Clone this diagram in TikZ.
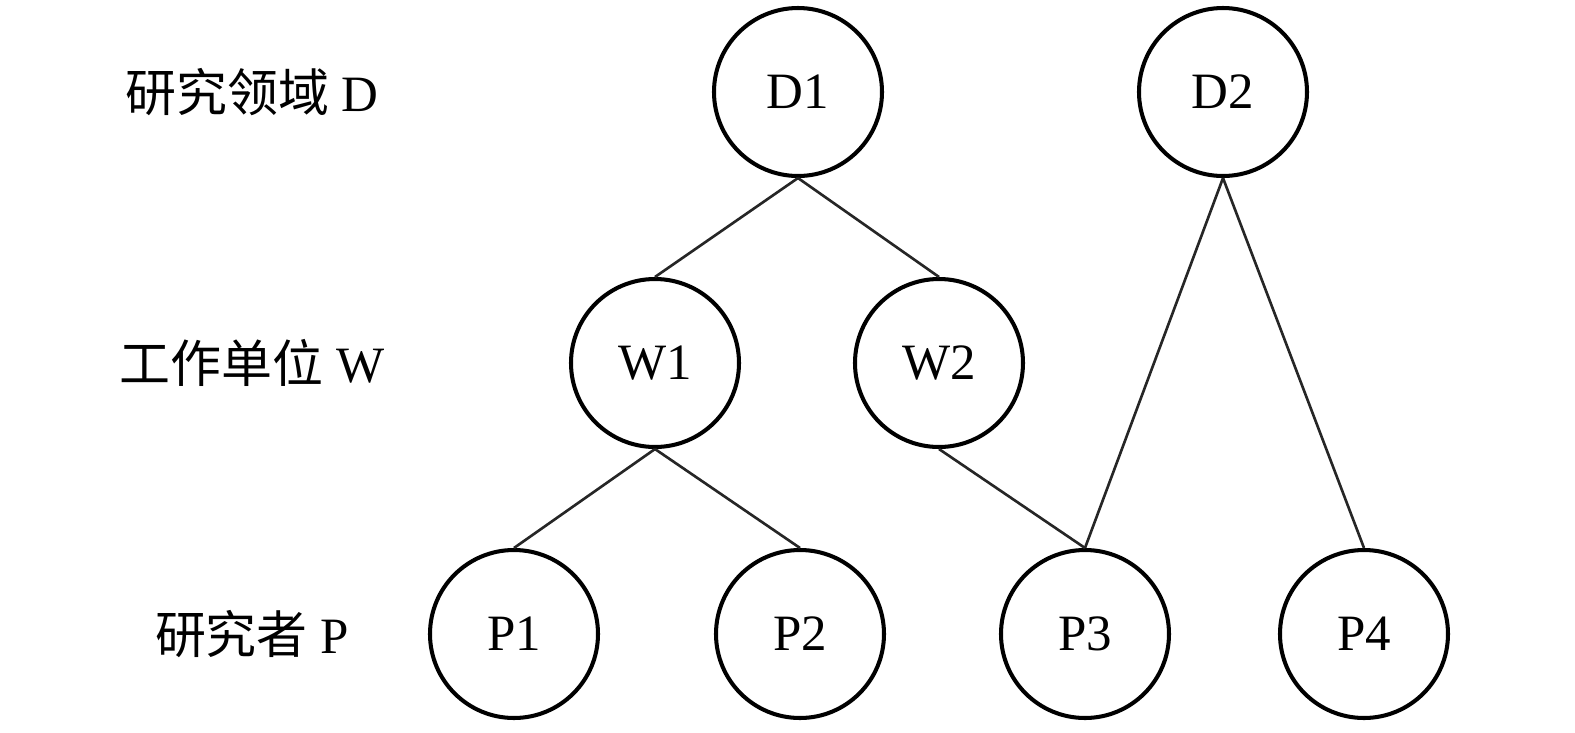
\documentclass[tikz,border=0pt]{standalone}
\usepackage{fontspec}
\setmainfont{Liberation Serif}
\newfontfamily\cjk{Noto Sans CJK SC}
\usetikzlibrary{positioning}

\begin{document}
\begin{tikzpicture}[on grid,auto,
	nd/.style={circle,draw,line width=1.15pt,minimum size=1.68cm,inner sep=0pt,font=\fontsize{14.5}{17}\selectfont},
	lvl/.style={font=\fontsize{14.5}{17}\selectfont},
	lnk/.style={line width=0.75pt,black!85}]
		\useasboundingbox (0,0) rectangle (15.75,7.32);
		\node[nd] (D1) at (7.98,6.40) {D1};
		\node[nd] (D2) [right=4.25 of D1] {D2};
		\node[nd] (W1) [below left=2.71 and 1.43 of D1] {W1};
		\node[nd] (W2) [right=2.84 of W1] {W2};
		\node[nd] (P1) [below left=2.71 and 1.41 of W1] {P1};
		\node[nd] (P2) [right=2.86 of P1] {P2};
		\node[nd] (P3) [right=2.85 of P2] {P3};
		\node[nd] (P4) [right=2.79 of P3] {P4};
		% levels
		\node[lvl] (ld) [left=5.46 of D1] {{\cjk 研究领域} D};
		\node[lvl] (lw) [left=4.03 of W1] {{\cjk 工作单位} W};
		\node[lvl] (lp) [left=2.62 of P1] {{\cjk 研究者} P};
		\path[lnk]
		(D1.south) edge (W1.north)
		edge (W2.north)
		(W1.south) edge (P1.north)
		edge (P2.north)
		(W2.south) edge (P3.north)
		(D2.south) edge (P3.north)
		edge (P4.north);
		\end{tikzpicture}
\end{document}
